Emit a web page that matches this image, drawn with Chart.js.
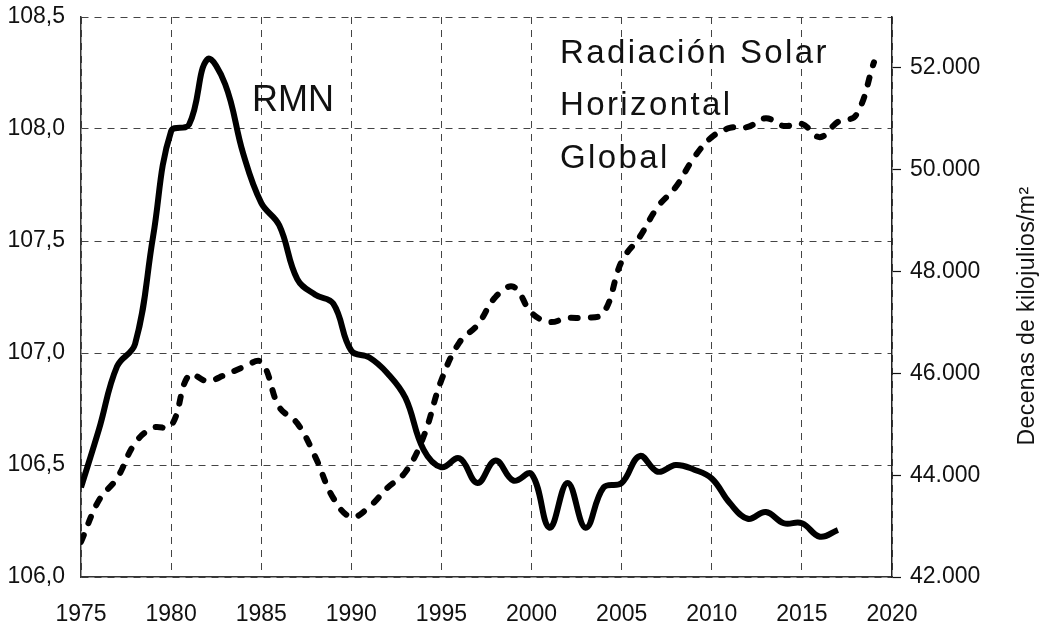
<!DOCTYPE html>
<html>
<head>
<meta charset="utf-8">
<script src="https://cdn.jsdelivr.net/npm/chart.js@4.4.1/dist/chart.umd.min.js"></script>
<style>
  html, body { margin: 0; padding: 0; background: #fff; }
  #wrap { width: 1050px; height: 625px; }
</style>
</head>
<body>
<div id="wrap"><canvas id="rmnChart" width="1050" height="625"></canvas></div>
<script>
// años (eje X)
const anios = [1975, 1976, 1977, 1978, 1979, 1980, 1981, 1982, 1983, 1984,
    1985, 1986, 1987, 1988, 1989, 1990, 1991, 1992, 1993, 1994,
    1995, 1996, 1997, 1998, 1999, 2000, 2001, 2002, 2003, 2004,
    2005, 2006, 2007, 2008, 2009, 2010, 2011, 2012, 2013, 2014,
    2015, 2016, 2017, 2018, 2019];

// RMN (eje izquierdo), 1975-2017
const rmn = [106.40, 106.66, 106.94, 107.04, 107.52, 107.99, 108.02, 108.31, 108.20, 107.89,
    107.67, 107.57, 107.33, 107.26, 107.22, 107.01, 106.98, 106.91, 106.80, 106.57,
    106.49, 106.53, 106.42, 106.52, 106.43, 106.46, 106.22, 106.42, 106.22, 106.40,
    106.42, 106.54, 106.47, 106.50, 106.48, 106.44, 106.33, 106.26, 106.29, 106.24,
    106.24, 106.18, 106.21];

// Radiación solar horizontal global (eje derecho), 1975-2019
const radiacion = [42690, 43510, 43940, 44630, 44930, 44970, 45970, 45850, 45970, 46120,
    46220, 45340, 45020, 44360, 43550, 43180, 43380, 43750, 44060, 44750,
    45870, 46610, 46950, 47500, 47700, 47190, 47010, 47090, 47090, 47190,
    48200, 48680, 49270, 49660, 50230, 50640, 50820, 50840, 51010, 50860,
    50900, 50640, 50940, 51070, 52110];

const ticksIzq = [106.0, 106.5, 107.0, 107.5, 108.0, 108.5];
const ticksDer = [42000, 44000, 46000, 48000, 50000, 52000];
const ticksX = [1975, 1980, 1985, 1990, 1995, 2000, 2005, 2010, 2015, 2020];

const fuente = '"Liberation Sans", Arial, Helvetica, sans-serif';
Chart.defaults.font.family = fuente;
Chart.defaults.color = '#111';

function puntos(valores) {
    return valores.map((v, i) => ({ x: anios[i], y: v }));
}

function fmtMiles(v) {
    return String(v).replace(/\B(?=(\d{3})+(?!\d))/g, '.');
}

// el padding de las etiquetas lo controla layout.padding
function ajustarEjeY(ancho) {
    return (s) => {
        s.width = ancho;
        s.paddingTop = 0;
        s.paddingBottom = 0;
    };
}

const textos = {
    id: 'textos',
    afterDraw(chart) {
        const ctx = chart.ctx;
        ctx.save();
        ctx.fillStyle = '#111';
        ctx.textAlign = 'left';
        ctx.textBaseline = 'alphabetic';

        ctx.font = '36px ' + fuente;
        ctx.fillText('RMN', 252, 111);

        ctx.font = '33px ' + fuente;
        ctx.letterSpacing = '2.4px';
        ctx.fillText('Radiación Solar', 560, 63);
        ctx.fillText('Horizontal', 560, 115);
        ctx.fillText('Global', 560, 168);

        ctx.font = '23px ' + fuente;
        ctx.letterSpacing = '0.4px';
        ctx.translate(1028, 316);
        ctx.rotate(-Math.PI / 2);
        ctx.textAlign = 'center';
        ctx.textBaseline = 'middle';
        ctx.fillText('Decenas de kilojulios/m²', 0, 0);
        ctx.restore();
    }
};

document.addEventListener('DOMContentLoaded', function () {
    const ctx = document.getElementById('rmnChart').getContext('2d');
    new Chart(ctx, {
        type: 'line',
        data: {
            datasets: [
                {
                    label: 'RMN',
                    data: puntos(rmn),
                    yAxisID: 'y',
                    borderColor: '#000',
                    borderWidth: 6,
                    pointRadius: 0,
                    tension: 0.4,
                    fill: false
                },
                {
                    label: 'Radiación Solar Horizontal Global',
                    data: puntos(radiacion),
                    yAxisID: 'y2',
                    borderColor: '#000',
                    borderWidth: 6,
                    borderDash: [7, 13],
                    borderCapStyle: 'round',
                    pointRadius: 0,
                    tension: 0.4,
                    fill: false
                }
            ]
        },
        options: {
            responsive: false,
            animation: false,
            layout: { padding: { top: 17, left: 0, right: 0, bottom: 0 } },
            plugins: {
                legend: { display: false },
                tooltip: { enabled: false }
            },
            scales: {
                x: {
                    type: 'linear',
                    min: 1975,
                    max: 2020,
                    afterFit: (s) => { s.height = 48; },
                    afterBuildTicks: (s) => { s.ticks = ticksX.map(v => ({ value: v })); },
                    grid: {
                        color: '#444',
                        lineWidth: 1,
                        drawTicks: false
                    },
                    border: { display: true, color: '#333', width: 1.5, dash: [7, 6] },
                    ticks: {
                        padding: 24,
                        font: { size: 23 },
                        color: '#111',
                        callback: (v) => String(v)
                    }
                },
                y: {
                    position: 'left',
                    min: 106,
                    max: 108.5,
                    afterFit: ajustarEjeY(81),
                    afterBuildTicks: (s) => { s.ticks = ticksIzq.map(v => ({ value: v })); },
                    grid: {
                        color: '#444',
                        lineWidth: 1,
                        drawTicks: false
                    },
                    border: { display: true, color: '#333', width: 1.5, dash: [7, 6] },
                    ticks: {
                        padding: 16,
                        font: { size: 23 },
                        color: '#111',
                        callback: (v) => v.toFixed(1).replace('.', ',')
                    }
                },
                y2: {
                    position: 'right',
                    min: 42000,
                    max: 53000,
                    afterFit: ajustarEjeY(158),
                    afterBuildTicks: (s) => { s.ticks = ticksDer.map(v => ({ value: v })); },
                    grid: {
                        drawOnChartArea: false,
                        drawTicks: true,
                        tickLength: 9,
                        tickColor: '#111',
                        tickWidth: 1.2,
                        color: '#111',
                        lineWidth: 1
                    },
                    border: { display: true, color: '#222', width: 1.5 },
                    ticks: {
                        padding: 9,
                        font: { size: 23 },
                        color: '#111',
                        callback: (v) => fmtMiles(v)
                    }
                }
            }
        },
        plugins: [textos]
    });
});
</script>
</body>
</html>
